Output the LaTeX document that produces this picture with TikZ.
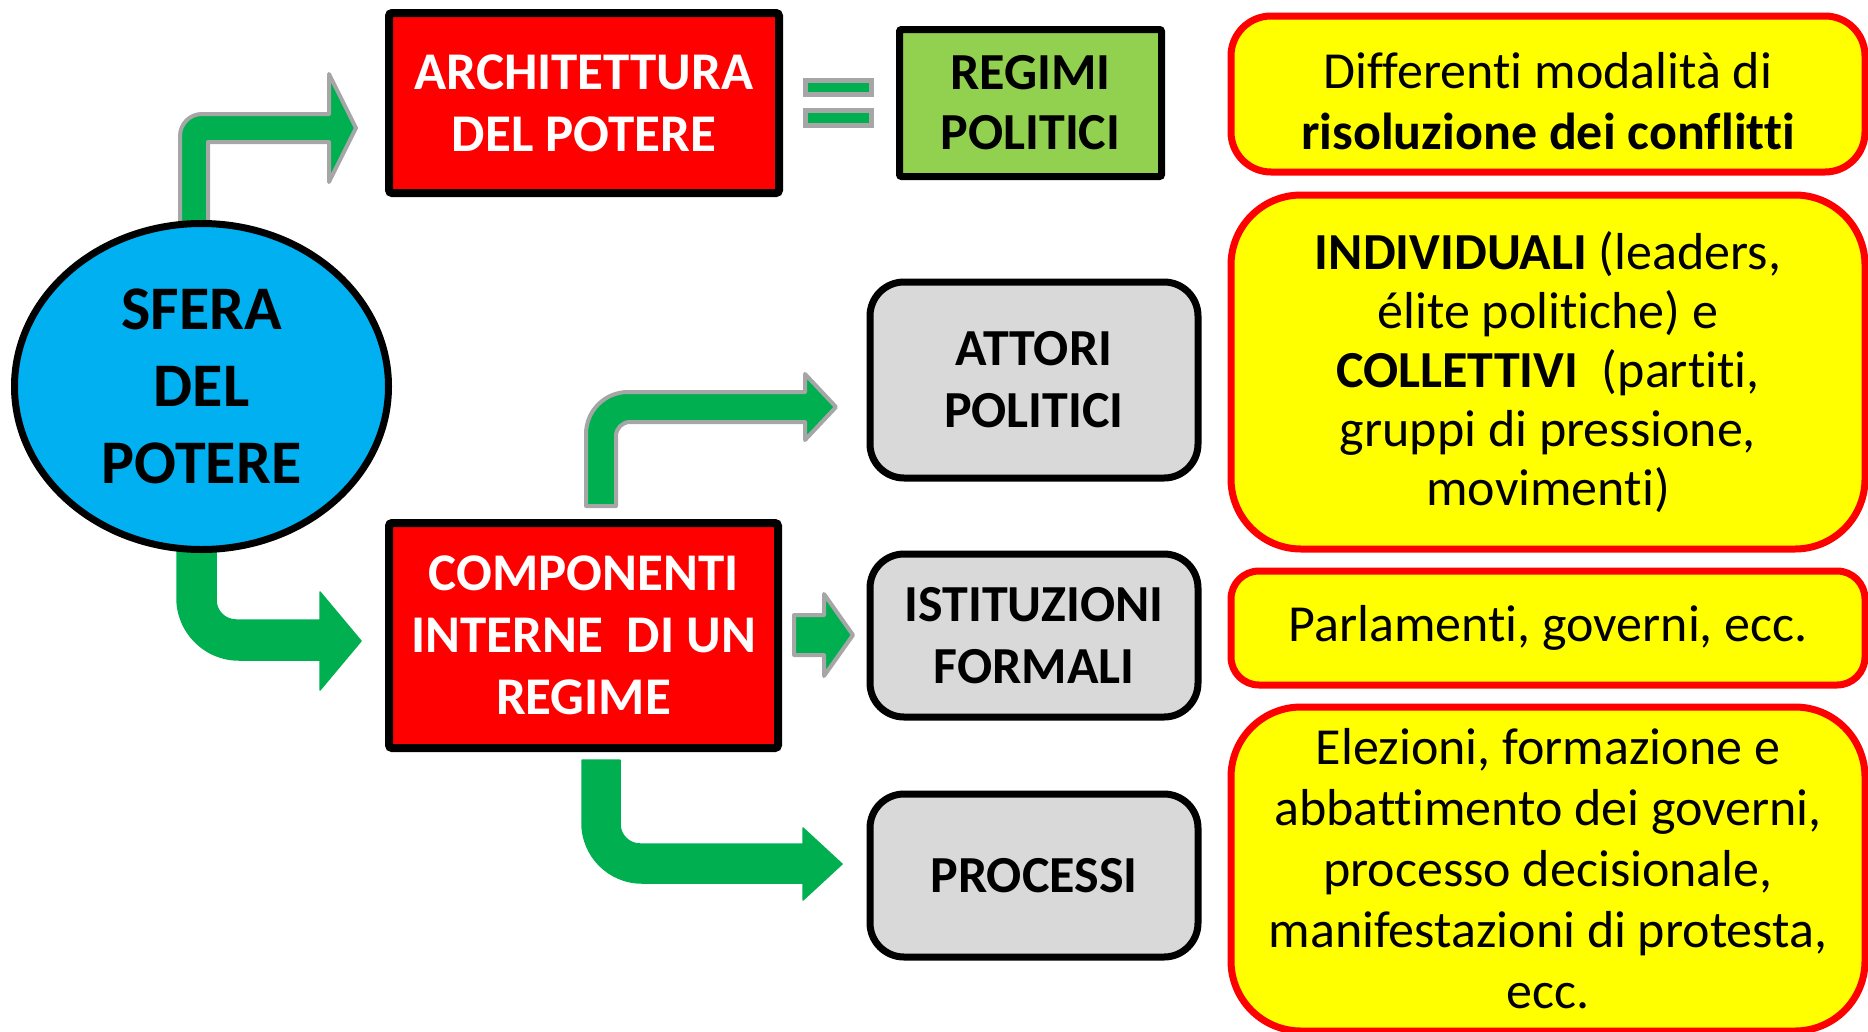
\documentclass[tikz,border=0pt]{standalone}
\usepackage{fontspec}
\setmainfont{Carlito}[Ligatures=NoCommon]
\usetikzlibrary{shapes.geometric}
\definecolor{boxred}{HTML}{FF0000}
\definecolor{boxgreen}{HTML}{92D050}
\definecolor{boxgray}{HTML}{D9D9D9}
\definecolor{boxyellow}{HTML}{FFFF00}
\definecolor{ellblue}{HTML}{00B0F0}
\definecolor{arrgreen}{HTML}{00B050}
\definecolor{outgray}{HTML}{A6A6A6}
\pgfdeclarelayer{bg}
\pgfsetlayers{bg,main}
\tikzset{
  redbox/.style={draw=black, line width=8pt, fill=boxred, text=white, rounded corners=3pt,
    font=\bfseries\fontsize{53}{62}\selectfont, align=center, inner sep=0pt},
  greenbox/.style={draw=black, line width=7pt, fill=boxgreen, text=black, rounded corners=2pt,
    font=\bfseries\fontsize{52}{60}\selectfont, align=center, inner sep=0pt},
  graybox/.style={draw=black, line width=7pt, fill=boxgray, text=black, rounded corners=34pt,
    font=\bfseries\fontsize{52}{62}\selectfont, align=center, inner sep=0pt,
    minimum width=328pt, minimum height=163pt},
  yellowbox/.style={draw=boxred, line width=7pt, fill=boxyellow, text=black,
    font=\fontsize{52}{61}\selectfont, align=center, inner sep=0pt, minimum width=634pt},
  outarrow/.style={fill=arrgreen, draw=outgray, line width=4pt, line join=round},
  plainarrow/.style={fill=arrgreen, draw=arrgreen, line width=1.5pt, line join=round},
  eqbar/.style={fill=arrgreen, draw=outgray, line width=5pt}
}
\begin{document}
\begin{tikzpicture}[x=1pt,y=-1pt]
\useasboundingbox (0,0) rectangle (1868,1031);

% ellipse
\node[ellipse, draw=black, line width=7pt, fill=ellblue, minimum width=374pt, minimum height=326pt,
  inner sep=0pt, align=center, font=\bfseries\fontsize{62}{77}\selectfont] (sfera) at (201.5,386.5)
  {SFERA\\DEL\\POTERE};

% red boxes
\node[redbox, minimum width=390pt, minimum height=180pt] (arch) at (584,103) {ARCHITETTURA\\DEL POTERE};
\node[redbox, minimum width=389pt, minimum height=225pt] (comp) at (583.5,635.5) {COMPONENTI\\INTERNE~~DI UN\\REGIME};

% green box
\node[greenbox, minimum width=262pt, minimum height=147pt] (regimi) at (1030.5,103) {REGIMI\\POLITICI};

% gray boxes
\node[graybox, minimum height=196pt] (attori) at (1034,380) {ATTORI\\POLITICI};
\node[graybox] (istit) at (1034,635.5) {ISTITUZIONI\\FORMALI};
\node[graybox] (proc) at (1034,875.5) {PROCESSI};

% yellow boxes
\node[yellowbox, minimum height=156pt, rounded corners=40pt] (y1) at (1548,94)
  {\rule{0pt}{50pt}Differenti modalità di\\\textbf{risoluzione dei conflitti}};
\node[yellowbox, minimum height=354pt, rounded corners=70pt, font=\fontsize{52}{59}\selectfont] (y2) at (1548,372)
  {\textbf{INDIVIDUALI} (leaders,\\élite politiche) e\\\textbf{COLLETTIVI}~~(partiti,\\gruppi di pressione,\\movimenti)};
\node[yellowbox, minimum height=114pt, rounded corners=28pt] (y3) at (1548,628)
  {Parlamenti, governi, ecc.};
\node[yellowbox, minimum height=324pt, rounded corners=70pt] (y4) at (1548,869)
  {Elezioni, formazione e\\abbattimento dei governi,\\processo decisionale,\\manifestazioni di protesta,\\ecc.};

\begin{pgfonlayer}{bg}
% arrow sfera -> arch
\path[outarrow] (180,262) -- (180,136) arc[start angle=180,end angle=270,radius=22]
  -- (329,114) -- (329,74) -- (356,128) -- (329,182) -- (329,142) -- (208,142) -- (208,262) -- cycle;
% arrow sfera -> comp
\path[plainarrow] (177,480) -- (177,598) arc[start angle=180,end angle=90,radius=62]
  -- (320,660) -- (320,690) -- (361,641) -- (320,592) -- (320,620) -- (236,620)
  arc[start angle=90,end angle=180,radius=20] -- (216,480) -- cycle;
\end{pgfonlayer}

% arrow comp -> attori
\path[outarrow] (586,506) -- (586,434) arc[start angle=180,end angle=270,radius=42]
  -- (805,392) -- (805,374) -- (836,407) -- (805,440) -- (805,422) -- (630,422)
  arc[start angle=270,end angle=180,radius=14] -- (616,506) -- cycle;
% arrow comp -> istit
\path[outarrow] (794,615) -- (824,615) -- (824,594) -- (853,635) -- (824,676) -- (824,655) -- (794,655) -- cycle;
% arrow comp -> processi
\path[plainarrow] (582,760) -- (582,823) arc[start angle=180,end angle=90,radius=60]
  -- (803,883) -- (803,900) -- (842,864) -- (803,828) -- (803,844) -- (640,844)
  arc[start angle=90,end angle=180,radius=20] -- (620,760) -- cycle;

% equals sign
\path[eqbar] (805.5,80.5) rectangle (871.5,94.5);
\path[eqbar] (805.5,110.5) rectangle (871.5,125.5);
\end{tikzpicture}
\end{document}
